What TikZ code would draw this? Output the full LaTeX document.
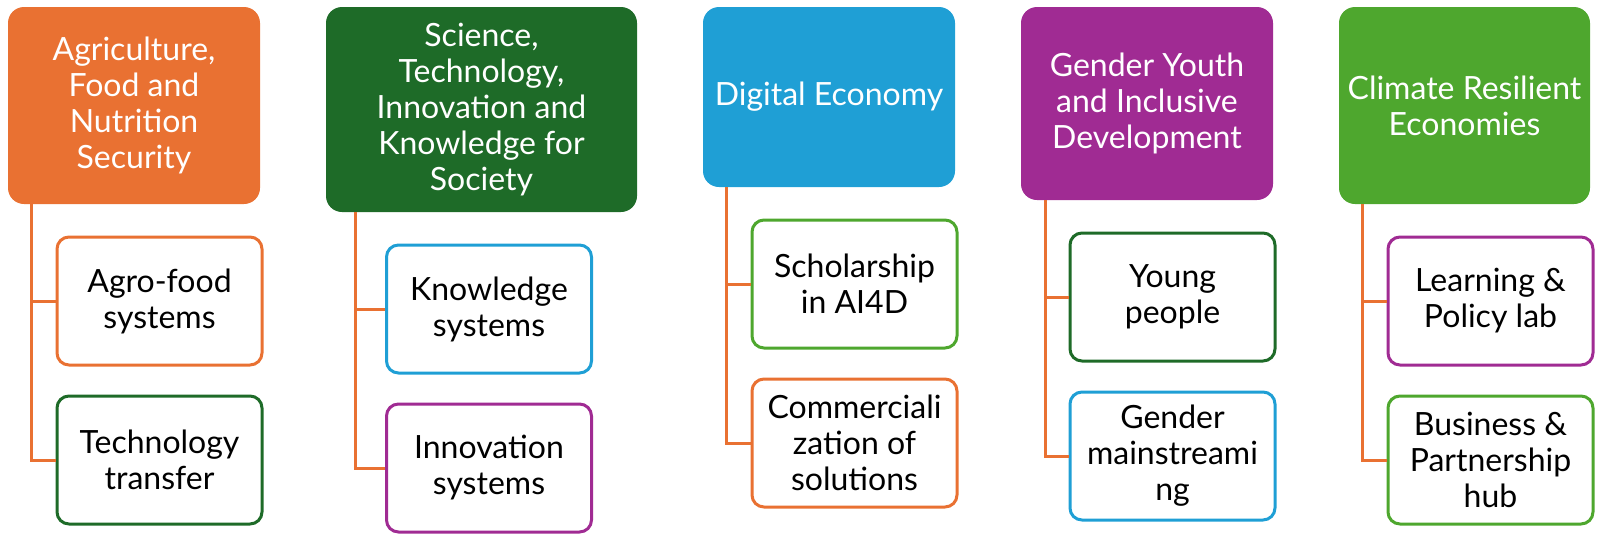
\documentclass[tikz,border=0pt]{standalone}
\usepackage{fontspec}
\setmainfont{Lato}
\usetikzlibrary{calc}
\definecolor{corange}{HTML}{E97132}
\definecolor{cdgreen}{HTML}{1E6B28}
\definecolor{cblue}{HTML}{1F9FD5}
\definecolor{cpurple}{HTML}{A02B93}
\definecolor{clgreen}{HTML}{4EA72E}
\begin{document}
\begin{tikzpicture}[x=0.5pt,y=-0.5pt,
  head/.style={rounded corners=8pt, align=center, text=white, inner sep=0pt,
    font=\fontsize{16}{18}\selectfont, minimum width=126pt},
  leaf/.style={draw, line width=1.5pt, rounded corners=6pt, fill=white, align=center,
    text=black, inner sep=0pt, font=\fontsize{16}{18}\selectfont,
    minimum width=102.5pt, minimum height=64pt},
  conn/.style={draw=corange, line width=1.5pt}]
\useasboundingbox (0,0) rectangle (1602,538);

% column 1
\node[head, fill=corange, minimum height=98.5pt] (h1) at (134,105.5) {Agriculture,\\Food and\\Nutrition\\Security};
\node[leaf, draw=corange] (c1a) at (159.5,301) {Agro-food\\systems};
\node[leaf, draw=cdgreen] (c1b) at (159.5,460) {Technology\\transfer};
\coordinate (t1) at ($(h1.south west)+(24,0)$);
\draw[conn] (t1) |- (c1a.west);
\draw[conn] (t1) |- (c1b.west);

% column 2
\node[head, fill=cdgreen, minimum width=155.5pt, minimum height=102.5pt] (h2) at (481.5,109.5) {Science,\\Technology,\\Innovation and\\Knowledge for\\Society};
\node[leaf, draw=cblue] (c2a) at (489,309) {Knowledge\\systems};
\node[leaf, draw=cpurple] (c2b) at (489,468) {Innovation\\systems};
\coordinate (t2) at ($(h2.south west)+(30,0)$);
\draw[conn] (t2) |- (c2a.west);
\draw[conn] (t2) |- (c2b.west);

% column 3
\node[head, fill=cblue, minimum height=90pt] (h3) at (829,97) {Digital Economy};
\node[leaf, draw=clgreen] (c3a) at (854.5,284) {Scholarship\\in AI4D};
\node[leaf, draw=corange] (c3b) at (854.5,443) {Commerciali\\zation of\\solutions};
\coordinate (t3) at ($(h3.south west)+(24,0)$);
\draw[conn] (t3) |- (c3a.west);
\draw[conn] (t3) |- (c3b.west);

% column 4
\node[head, fill=cpurple, minimum height=96.5pt] (h4) at (1147,103.5) {Gender Youth\\and Inclusive\\Development};
\node[leaf, draw=cdgreen] (c4a) at (1172.5,297) {Young\\people};
\node[leaf, draw=cblue] (c4b) at (1172.5,456) {Gender\\mainstreami\\ng};
\coordinate (t4) at ($(h4.south west)+(25,0)$);
\draw[conn] (t4) |- (c4a.west);
\draw[conn] (t4) |- (c4b.west);

% column 5
\node[head, fill=clgreen, minimum width=125.5pt, minimum height=98.5pt] (h5) at (1464.5,105.5) {Climate Resilient\\Economies};
\node[leaf, draw=cpurple] (c5a) at (1490.5,301) {Learning \&\\Policy lab};
\node[leaf, draw=clgreen] (c5b) at (1490.5,460) {Business \&\\Partnership\\hub};
\coordinate (t5) at ($(h5.south west)+(24,0)$);
\draw[conn] (t5) |- (c5a.west);
\draw[conn] (t5) |- (c5b.west);
\end{tikzpicture}
\end{document}
